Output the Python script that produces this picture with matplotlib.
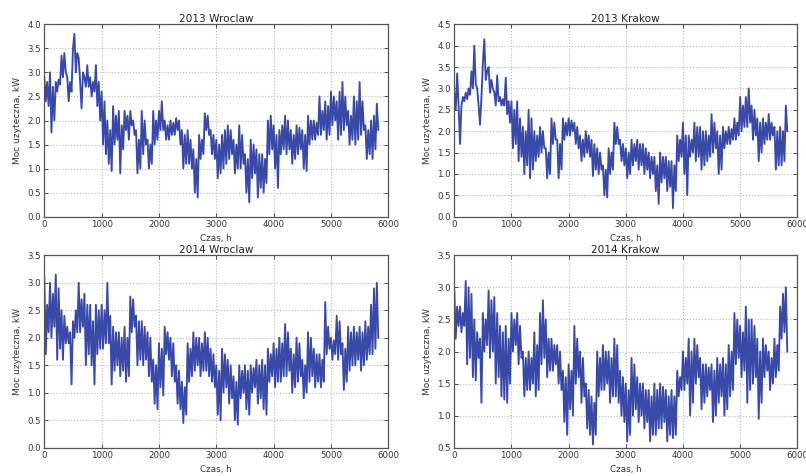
import numpy as np
import matplotlib
matplotlib.use("Agg")
import matplotlib.pyplot as plt

step_h = 25

wroclaw_2013 = [
    2.9, 2.4, 2.8, 2.3,  3.0, 1.75, 2.7, 2.0,  2.8, 2.6, 2.85, 2.75,  3.35, 2.9, 3.4, 3.0,
    2.9, 2.4, 2.8, 2.6,  3.5, 3.8, 3.0, 3.4,  3.3, 2.8, 2.25, 3.0,  2.9, 2.7, 3.15, 2.7,
    2.9, 2.5, 2.8, 2.6,  3.15, 2.3, 2.8, 2.0,  2.6, 1.5, 2.4, 1.3,  2.0, 1.1, 1.8, 0.95,
    2.3, 1.5, 2.1, 1.6,  2.2, 0.9, 1.9, 1.4,  2.2, 1.8, 2.1, 1.6,  2.2, 1.9, 2.0, 1.7,
    1.8, 0.9, 1.6, 1.0,  2.2, 1.3, 2.0, 1.5,  1.6, 1.0, 1.5, 1.1,  2.2, 1.5, 2.0, 1.6,
    2.2, 1.8, 2.4, 1.8,  2.0, 1.6, 1.9, 1.6,  2.0, 1.7, 1.95, 1.7,  2.05, 1.8, 2.0, 1.5,
    1.8, 1.0, 1.7, 1.1,  1.8, 1.1, 1.6, 1.0,  1.4, 0.5, 1.2, 0.4,  1.7, 1.2, 1.6, 1.3,
    2.15, 1.8, 2.1, 1.7,  1.8, 1.3, 1.7, 1.2,  1.6, 0.8, 1.5, 0.9,  1.7, 1.0, 1.8, 1.1,
    1.9, 1.2, 1.8, 1.3,  1.6, 0.9, 1.5, 1.0,  1.9, 1.0, 1.7, 1.1,  1.3, 0.5, 1.2, 0.3,
    1.6, 0.8, 1.5, 0.9,  1.4, 0.4, 1.3, 0.6,  1.3, 0.5, 1.2, 0.7,  2.0, 1.3, 2.1, 1.4,
    1.9, 1.0, 1.7, 0.6,  1.8, 1.3, 1.9, 1.4,  2.1, 1.3, 2.0, 1.4,  1.8, 1.1, 1.7, 1.2,
    1.9, 1.3, 1.85, 1.4,  1.8, 1.0, 1.7, 0.95,  2.1, 1.5, 2.0, 1.6,  2.0, 1.6, 1.95, 1.7,
    2.5, 1.7, 2.2, 1.8,  2.4, 1.6, 2.3, 1.7,  2.6, 1.9, 2.5, 2.0,  2.4, 1.6, 2.6, 1.7,
    2.8, 1.8, 2.5, 1.9,  2.2, 1.5, 2.1, 1.6,  2.5, 1.5, 2.4, 1.6,  2.8, 1.7, 2.4, 1.8,
    1.9, 1.2, 1.8, 1.3,  2.0, 1.2, 2.1, 1.4,  2.35, 1.8,
]

krakow_2013 = [
    2.9, 2.5, 3.35, 2.6,  1.7, 2.6, 2.8, 2.7,  2.9, 2.75, 3.0, 2.85,  3.4, 3.0, 4.0, 3.1,
    3.0, 2.6, 2.15, 2.8,  3.6, 4.15, 3.2, 3.4,  3.5, 2.9, 3.2, 3.0,  2.9, 2.6, 3.3, 2.7,
    2.8, 2.6, 2.75, 2.6,  3.25, 2.4, 2.7, 2.2,  2.7, 1.6, 2.5, 1.7,  2.7, 1.3, 2.3, 1.4,
    2.1, 1.0, 2.0, 1.2,  2.5, 0.9, 2.3, 1.1,  2.0, 1.3, 1.9, 1.4,  2.1, 1.5, 2.0, 1.6,
    1.6, 0.9, 1.5, 1.0,  2.3, 1.7, 2.2, 1.8,  1.8, 0.9, 1.7, 1.1,  2.3, 1.8, 2.2, 1.9,
    2.3, 1.9, 2.25, 2.0,  2.2, 1.7, 2.1, 1.6,  1.9, 1.3, 1.8, 1.4,  2.0, 1.5, 1.9, 1.4,
    1.8, 0.95, 1.7, 1.1,  1.6, 1.0, 1.5, 1.1,  1.2, 0.5, 1.1, 0.45,  1.6, 1.0, 1.5, 1.1,
    2.2, 1.7, 2.1, 1.7,  1.8, 1.3, 1.7, 1.2,  1.6, 0.9, 1.5, 1.0,  1.8, 1.2, 1.7, 1.3,
    1.8, 1.1, 1.7, 1.2,  1.7, 1.0, 1.6, 1.1,  1.5, 0.9, 1.4, 1.0,  1.4, 0.6, 1.2, 0.3,
    1.5, 0.8, 1.4, 0.9,  1.4, 0.6, 1.3, 0.7,  1.3, 0.2, 1.2, 0.6,  1.9, 1.3, 1.8, 1.4,
    2.2, 1.0, 1.9, 0.5,  1.9, 1.4, 1.8, 1.5,  2.2, 1.3, 2.1, 1.4,  2.1, 1.1, 2.0, 1.2,
    2.0, 1.3, 1.9, 1.4,  2.4, 1.5, 2.2, 1.6,  2.0, 1.0, 1.9, 1.1,  2.1, 1.6, 2.0, 1.7,
    2.1, 1.7, 2.05, 1.8,  2.3, 1.8, 2.2, 1.9,  2.8, 2.0, 2.6, 2.1,  2.8, 2.1, 3.0, 2.2,
    2.6, 1.8, 2.5, 1.9,  2.3, 1.3, 2.2, 1.5,  2.3, 1.7, 2.2, 1.8,  2.4, 1.8, 2.2, 1.9,
    2.1, 1.1, 2.0, 1.2,  2.1, 1.2, 2.0, 1.3,  2.6, 2.0,
]

wroclaw_2014 = [
    3.1, 1.7, 2.6, 2.1,  3.0, 2.0, 2.8, 2.2,  3.15, 1.6, 2.9, 1.8,  2.5, 1.6, 2.4, 1.9,
    2.2, 1.9, 2.1, 1.15,  2.3, 2.0, 2.5, 2.1,  3.0, 2.1, 2.7, 2.2,  2.8, 1.5, 2.6, 1.7,
    2.6, 1.5, 2.3, 1.15,  2.6, 1.7, 2.5, 1.8,  2.6, 1.8, 2.5, 1.9,  3.0, 1.9, 2.4, 1.15,
    2.2, 1.4, 2.1, 1.5,  2.1, 1.3, 2.0, 1.4,  2.2, 1.2, 2.0, 1.3,  2.75, 2.1, 2.7, 2.2,
    2.4, 1.5, 2.3, 1.6,  2.3, 1.5, 2.2, 1.6,  2.1, 1.3, 2.0, 1.2,  1.6, 0.8, 1.5, 0.7,
    1.9, 1.1, 1.8, 0.95,  2.2, 1.7, 2.1, 1.6,  2.0, 1.3, 1.9, 1.2,  1.5, 0.8, 1.4, 0.7,
    1.2, 0.45, 1.1, 0.6,  1.9, 1.2, 1.8, 1.3,  2.1, 1.4, 2.0, 1.5,  2.0, 1.3, 1.9, 1.4,
    2.1, 1.4, 2.0, 1.3,  1.8, 1.2, 1.7, 1.1,  1.5, 0.6, 1.4, 0.5,  1.8, 1.0, 1.7, 1.1,
    1.6, 0.8, 1.5, 0.9,  1.3, 0.5, 1.2, 0.42,  1.5, 0.9, 1.4, 1.0,  1.5, 0.7, 1.4, 0.6,
    1.5, 1.0, 1.45, 1.1,  1.6, 0.8, 1.5, 0.9,  1.6, 0.7, 1.5, 0.6,  1.8, 1.2, 1.7, 1.3,
    1.9, 1.1, 1.8, 1.2,  2.0, 1.2, 1.9, 1.3,  2.25, 1.3, 2.1, 1.4,  1.8, 1.0, 1.7, 1.1,
    2.0, 1.2, 1.9, 1.3,  1.6, 0.9, 1.5, 1.0,  2.1, 1.2, 2.0, 1.3,  1.8, 1.1, 1.7, 1.2,
    1.7, 1.1, 1.6, 1.2,  2.65, 1.7, 2.2, 1.8,  2.0, 1.6, 1.95, 1.7,  2.4, 1.6, 2.3, 1.7,
    1.9, 1.05, 1.8, 1.2,  2.2, 1.4, 2.1, 1.5,  2.2, 1.5, 2.1, 1.6,  2.2, 1.4, 2.1, 1.5,
    2.3, 1.6, 2.2, 1.7,  2.6, 1.7, 2.9, 1.8,  3.0, 2.0,
]

krakow_2014 = [
    2.95, 2.2, 2.7, 2.4,  2.7, 2.3, 2.6, 2.4,  3.1, 1.8, 3.0, 1.9,  2.9, 1.6, 2.5, 1.55,
    2.3, 1.9, 2.2, 1.2,  2.6, 2.0, 2.5, 2.1,  2.95, 1.9, 2.8, 2.0,  2.85, 1.5, 2.6, 1.6,
    2.4, 1.3, 2.3, 1.25,  2.4, 1.2, 2.2, 1.5,  2.6, 2.0, 2.5, 2.1,  2.6, 1.8, 2.4, 1.9,
    2.0, 1.3, 1.9, 1.4,  2.0, 1.4, 1.9, 1.5,  2.3, 1.3, 2.1, 1.4,  2.6, 1.8, 2.8, 1.9,
    2.5, 1.6, 2.2, 1.7,  2.2, 1.7, 2.1, 1.8,  2.1, 1.5, 2.0, 1.4,  1.7, 0.9, 1.6, 0.7,
    1.8, 1.1, 1.7, 1.0,  2.4, 1.5, 2.2, 1.6,  2.0, 1.2, 1.9, 1.3,  1.5, 0.8, 1.4, 0.7,
    1.3, 0.55, 1.2, 0.7,  2.0, 1.3, 1.9, 1.4,  2.1, 1.4, 2.0, 1.5,  2.0, 1.2, 1.9, 1.3,
    2.2, 1.3, 2.1, 1.2,  1.7, 1.0, 1.6, 0.9,  1.5, 0.6, 1.4, 0.7,  1.9, 1.0, 1.8, 1.1,
    1.6, 0.9, 1.5, 1.0,  1.5, 0.8, 1.4, 0.9,  1.4, 0.6, 1.3, 0.7,  1.5, 0.7, 1.4, 0.8,
    1.5, 0.8, 1.45, 0.9,  1.4, 0.6, 1.3, 0.7,  1.4, 0.65, 1.3, 0.7,  1.7, 1.3, 1.6, 1.4,
    2.0, 1.4, 1.9, 1.5,  2.2, 1.0, 2.0, 1.2,  2.2, 1.5, 2.1, 1.6,  1.9, 1.1, 1.8, 1.2,
    1.8, 1.3, 1.75, 1.4,  1.8, 0.9, 1.7, 1.0,  1.9, 1.2, 1.8, 1.3,  1.9, 1.0, 1.8, 1.1,
    2.1, 1.3, 2.0, 1.4,  2.6, 1.8, 2.5, 1.9,  2.4, 1.6, 2.3, 1.7,  2.7, 1.2, 2.5, 1.4,
    2.5, 1.5, 2.4, 1.6,  2.2, 0.95, 2.0, 1.2,  2.2, 1.6, 2.1, 1.7,  2.0, 1.4, 1.9, 1.5,
    2.2, 1.6, 2.1, 1.7,  2.7, 2.2, 2.9, 2.3,  3.0, 2.0,
]

titles = ["2013 Wroclaw", "2013 Krakow", "2014 Wroclaw", "2014 Krakow"]
series = [wroclaw_2013, krakow_2013, wroclaw_2014, krakow_2014]
ylims = [(0.0, 4.0), (0.0, 4.5), (0.0, 3.5), (0.5, 3.5)]
xlabel = "Czas, h"
ylabel = "Moc uzyteczna, kW"

line_color = "#3849a8"

fig = plt.figure(figsize=(8.06, 4.76), dpi=100)
fig.patch.set_facecolor("white")

W, H = 806.0, 476.0
boxes = [  # left, top, right, bottom in pixels
    (44.3, 24.3, 388.3, 216.7),
    (454.3, 24.3, 797.3, 216.7),
    (44.3, 255.3, 388.3, 447.7),
    (454.3, 255.3, 797.3, 447.7),
]

for i, (title, vals, yl, box) in enumerate(zip(titles, series, ylims, boxes)):
    l, t, r, b = box
    ax = fig.add_axes([l / W, 1 - b / H, (r - l) / W, (b - t) / H])
    hours = np.arange(len(vals)) * step_h
    ax.plot(hours, vals, color=line_color, lw=1.35)
    ax.set_xlim(0, 6000)
    ax.set_ylim(*yl)
    ax.set_xticks(np.arange(0, 6001, 1000))
    ax.set_yticks(np.arange(yl[0], yl[1] + 0.001, 0.5))
    ax.yaxis.set_major_formatter(matplotlib.ticker.FormatStrFormatter("%.1f"))
    ax.grid(True, color="#b8b8b8", ls=":", lw=0.8)
    ax.tick_params(direction="in", top=True, right=True, labelsize=6.2,
                   length=3, width=0.6, colors="#333333", pad=2.5)
    for sp in ax.spines.values():
        sp.set_color("#555555")
        sp.set_linewidth(0.9)
    ax.set_title(title, fontsize=7.6, pad=1.5, color="#222222")
    ax.set_xlabel(xlabel, fontsize=6.3, labelpad=3.5, color="#333333")
    ax.set_ylabel(ylabel, fontsize=6.5, labelpad=4, color="#333333")

fig.savefig("out.png", dpi=100, facecolor="white")
